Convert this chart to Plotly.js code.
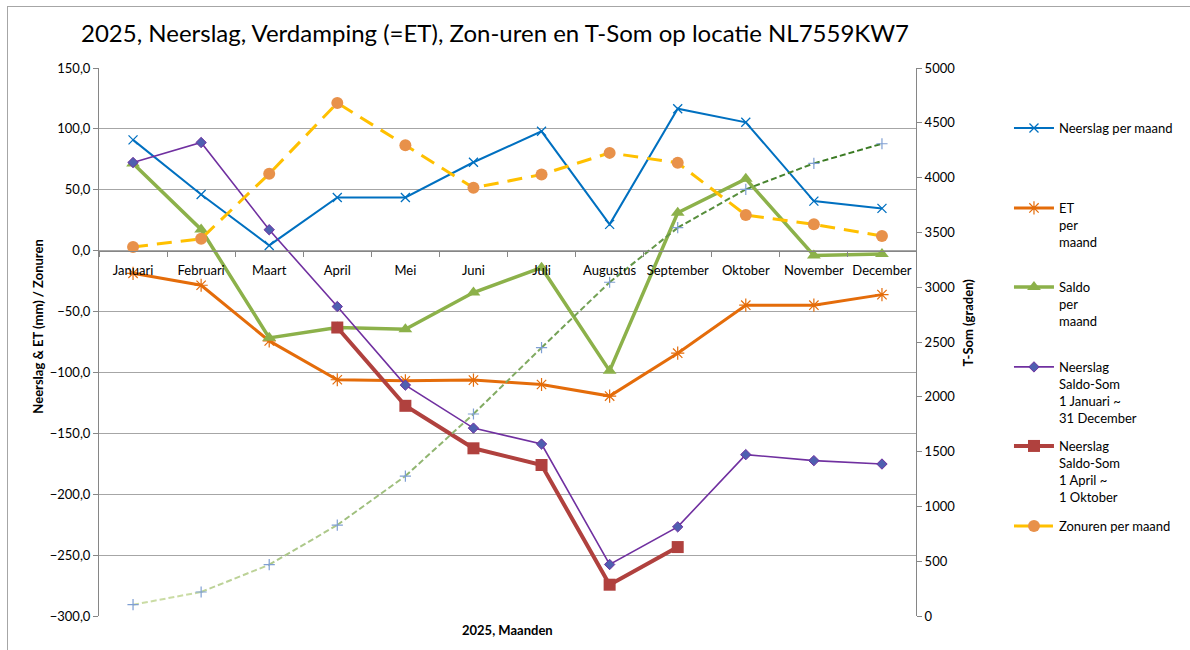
<!DOCTYPE html>
<html>
<head>
<meta charset="utf-8">
<script src="https://cdn.plot.ly/plotly-3.0.1.min.js"></script>
<style>
  html, body { margin: 0; padding: 0; background: #fff; }
  #wrap { position: relative; width: 1190px; height: 650px; }
  #chart { position: absolute; left: 0; top: 0; width: 1190px; height: 650px; }
  #frame { position: absolute; left: 7px; top: 6px; right: -2px; bottom: -2px; border: 1px solid #a6a6a6; pointer-events: none; }
</style>
</head>
<body>
<div id="wrap"><div id="chart"></div><div id="frame"></div></div>
<script>
// ---- data ----
const months = ["Januari","Februari","Maart","April","Mei","Juni","Juli","Augustus","September","Oktober","November","December"];
const neerslag = [91.0, 46.1, 4.3, 43.7, 43.7, 72.6, 98.0, 21.6, 116.6, 105.4, 40.7, 34.7];
const et = [-18.6, -28.4, -74.1, -106.0, -106.9, -106.3, -109.9, -119.4, -84.2, -44.8, -44.8, -36.1];
const saldo = [71.6, 17.4, -71.6, -63.1, -64.5, -34.4, -14.0, -98.7, 31.1, 59.0, -3.9, -2.8];
const saldoSomJaar = [72.4, 88.8, 17.2, -45.9, -110.4, -145.7, -158.8, -257.7, -226.8, -167.5, -172.4, -175.2];
const saldoSomAprOkt = [null, null, null, -63.1, -127.4, -162.3, -176.0, -274.3, -243.4, null, null, null];
const zonuren = [3.0, 9.8, 63.1, 121.3, 86.6, 51.6, 62.5, 80.3, 72.1, 29.2, 21.6, 12.0];
const tSom = [103, 219, 468, 830, 1277, 1843, 2448, 3045, 3543, 3893, 4130, 4309];

// ---- styling helpers ----
const FONT = "Lato, 'Open Sans', sans-serif";
function hex(c){return [parseInt(c.slice(1,3),16),parseInt(c.slice(3,5),16),parseInt(c.slice(5,7),16)];}
function mix(a,b,t){const A=hex(a),B=hex(b);return 'rgb('+A.map((v,i)=>Math.round(v+(B[i]-v)*t)).join(',')+')';}

const traces = [];
// T-Som: gradient dashed line, segment by segment
for (let i = 0; i < months.length - 1; i++) {
  traces.push({
    x: months.slice(i, i + 2), y: tSom.slice(i, i + 2), yaxis: 'y2',
    mode: 'lines', type: 'scatter', showlegend: false, hoverinfo: 'skip',
    line: { color: mix('#CADCA4', '#3A7A22', i / (months.length - 2)), width: 2, dash: '6px,3px' }
  });
}
traces.push({
  x: months, y: tSom, yaxis: 'y2', mode: 'markers', type: 'scatter', showlegend: false,
  name: 'T-Som', marker: { symbol: 'cross-thin', size: 8, line: { color: '#7F9FD3', width: 1.2 } }
});

traces.push({
  name: 'Neerslag per maand', legend: 'legend', x: months, y: neerslag, mode: 'lines+markers', type: 'scatter',
  line: { color: '#0070C0', width: 2 },
  marker: { symbol: 'x-thin', size: 9, line: { color: '#0070C0', width: 1.3 } }
});
traces.push({
  name: 'ET<br>per<br>maand', legend: 'legend2', x: months, y: et, mode: 'lines+markers', type: 'scatter',
  line: { color: '#E46C0A', width: 3 },
  marker: { symbol: 'asterisk-open', size: 11, line: { color: '#F07B22', width: 1.2 } }
});
traces.push({
  name: 'Saldo<br>per<br>maand', legend: 'legend3', x: months, y: saldo, mode: 'lines+markers', type: 'scatter',
  line: { color: '#8CB14A', width: 3.5 },
  marker: { symbol: 'triangle-up', size: 12, color: '#8CB14A' }
});
traces.push({
  name: 'Neerslag<br>Saldo-Som<br>1 Januari ~<br>31 December', legend: 'legend4', x: months, y: saldoSomJaar,
  mode: 'lines+markers', type: 'scatter',
  line: { color: '#7030A0', width: 1.6 },
  marker: { symbol: 'diamond', size: 8, color: '#4F5FB0', line: { color: '#7030A0', width: 1 } }
});
traces.push({
  name: 'Neerslag<br>Saldo-Som<br>1 April ~<br>1 Oktober', legend: 'legend5', x: months, y: saldoSomAprOkt,
  mode: 'lines+markers', type: 'scatter', connectgaps: false,
  line: { color: '#B0413E', width: 4 },
  marker: { symbol: 'square', size: 12, color: '#B0413E' }
});
traces.push({
  name: 'Zonuren per maand', legend: 'legend6', x: months, y: zonuren, mode: 'lines+markers', type: 'scatter',
  line: { color: '#FFC000', width: 3, dash: '15px,9px' },
  marker: { symbol: 'circle', size: 12, color: '#E8914A' }
});

const legendTops = [0.9179, 0.7719, 0.6277, 0.4818, 0.3376, 0.1916];
const legendBase = {
  x: 1.1138, xanchor: 'left', yanchor: 'top', bgcolor: 'rgba(0,0,0,0)', borderwidth: 0,
  font: { family: FONT, size: 13, color: '#000' }, itemwidth: 40, valign: 'top', tracegroupgap: 0
};

const layout = {
  width: 1190, height: 650,
  margin: { l: 99, r: 265, t: 68, b: 34 },
  paper_bgcolor: '#fff', plot_bgcolor: '#fff',
  separators: ',.',
  font: { family: FONT, size: 13, color: '#000' },
  title: {
    text: '2025, Neerslag, Verdamping (=ET), Zon-uren en T-Som op locatie NL7559KW7',
    font: { family: FONT, size: 24, color: '#000' },
    xref: 'container', yref: 'container', x: 0.416, xanchor: 'center', y: 0.949, yanchor: 'middle'
  },
  xaxis: {
    type: 'category', categoryorder: 'array', categoryarray: months,
    range: [-0.5, 11.5], anchor: 'free', position: 300 / 450,
    showline: true, linecolor: '#868686', linewidth: 1,
    ticks: 'outside', tickson: 'boundaries', ticklen: 5, tickcolor: '#868686',
    showgrid: false, zeroline: false, tickangle: 0, ticklabelstandoff: 8,
    tickfont: { family: FONT, size: 13, color: '#000' }
  },
  yaxis: {
    range: [-300, 150], dtick: 50, tick0: 0, tickformat: '.1f',
    showline: true, linecolor: '#868686', ticks: 'outside', ticklen: 5, tickcolor: '#868686',
    showgrid: true, gridcolor: '#a6a6a6', gridwidth: 1, zeroline: false,
    tickfont: { family: FONT, size: 13, color: '#000' }
  },
  yaxis2: {
    overlaying: 'y', side: 'right', range: [0, 5000], dtick: 500, tick0: 0, tickformat: 'd',
    showline: true, linecolor: '#868686', ticks: 'outside', ticklen: 5, tickcolor: '#868686',
    showgrid: false, zeroline: false,
    tickfont: { family: FONT, size: 13, color: '#000' }
  },
  annotations: [
    { text: '<b>2025, Maanden</b>', xref: 'paper', yref: 'paper', x: 0.5, y: -0.0255,
      xanchor: 'center', yanchor: 'middle', showarrow: false, font: { family: FONT, size: 13, color: '#000' } },
    { text: '<b>Neerslag & ET (mm) / Zonuren</b>', xref: 'paper', yref: 'paper', x: -0.0751, y: 0.5274,
      xanchor: 'center', yanchor: 'middle', textangle: -90, showarrow: false, font: { family: FONT, size: 13, color: '#000' } },
    { text: '<b>T-Som (graden)</b>', xref: 'paper', yref: 'paper', x: 1.0642, y: 0.5365,
      xanchor: 'center', yanchor: 'middle', textangle: -90, showarrow: false, font: { family: FONT, size: 13, color: '#000' } }
  ],
  showlegend: true
};
['legend','legend2','legend3','legend4','legend5','legend6'].forEach((k, i) => {
  layout[k] = Object.assign({}, legendBase, { y: legendTops[i] });
});

Plotly.newPlot('chart', traces, layout, { displayModeBar: false, staticPlot: true });
</script>
</body>
</html>
